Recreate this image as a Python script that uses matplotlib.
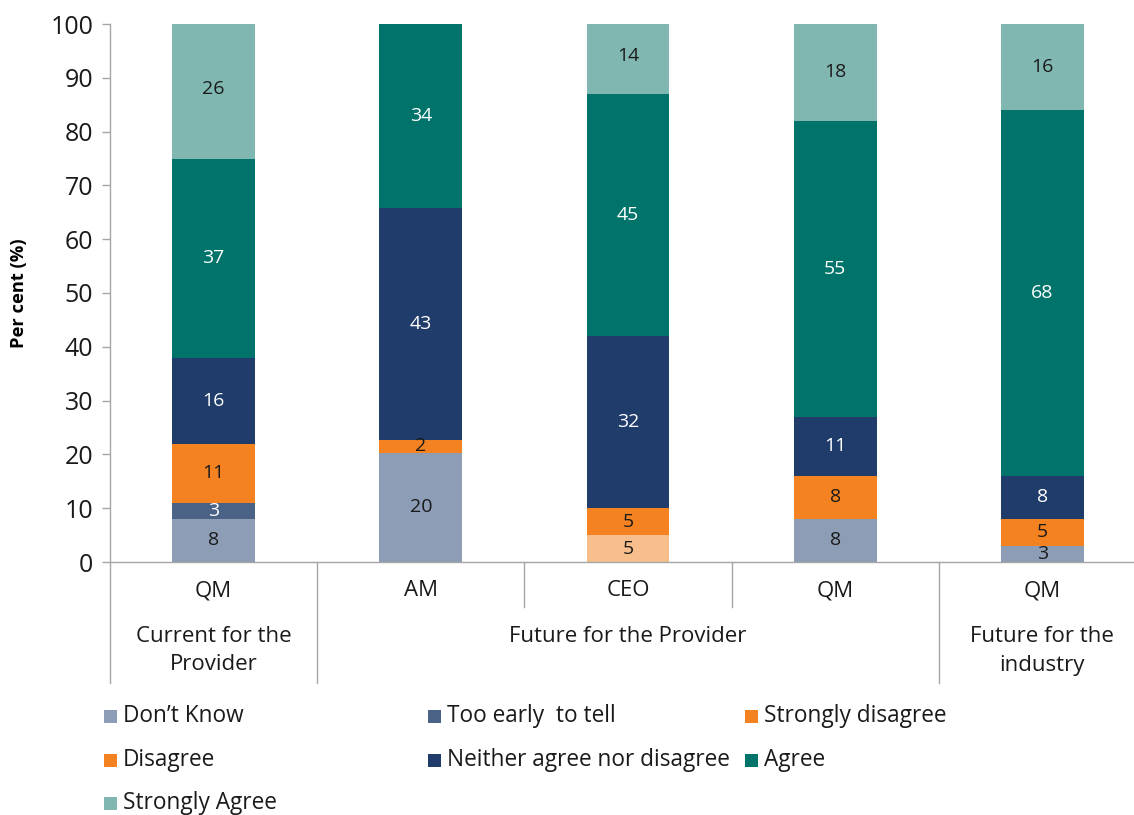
import matplotlib
matplotlib.use("Agg")
import matplotlib.pyplot as plt
from matplotlib.patches import Rectangle
from matplotlib.transforms import blended_transform_factory

plt.rcParams['font.family'] = ['Open Sans', 'DejaVu Sans']

# ---- data ----
bar_labels = ["QM", "AM", "CEO", "QM", "QM"]
group_labels = ["Current for the\nProvider", "Future for the Provider", "Future for the\nindustry"]
group_spans = [(0, 0), (1, 3), (4, 4)]

series_names = ["Don\u2019t Know", "Too early  to tell", "Strongly disagree", "Disagree",
                "Neither agree nor disagree", "Agree", "Strongly Agree"]
dont_know = [8, 20.3, 0, 8, 3]
too_early = [3, 0, 0, 0, 0]
strongly_disagree = [0, 0, 5, 0, 0]
disagree = [11, 2.4, 5, 8, 5]
neither = [16, 43.1, 32, 11, 8]
agree = [37, 34.2, 45, 55, 68]
strongly_agree = [26, 0, 14, 18, 16]
series_values = [dont_know, too_early, strongly_disagree, disagree, neither, agree, strongly_agree]

colors = ["#8C9DB5", "#4A6286", "#F58220", "#F58220", "#1F3C6A", "#00736A", "#80B8B1"]
point_override = {(2, 2): "#F8BE8C"}  # CEO strongly disagree shown lighter
text_colors = ["#1A1A1A", "white", "#1A1A1A", "#1A1A1A", "white", "white", "#1A1A1A"]

# ---- figure ----
W, H = 1134, 815
fig = plt.figure(figsize=(W / 100, H / 100), dpi=100)
ax = fig.add_axes([110 / W, (H - 562) / H, 1036 / W, 538 / H])

x = list(range(len(bar_labels)))
bottoms = [0.0] * len(x)
for si, (name, vals) in enumerate(zip(series_names, series_values)):
    cols = [point_override.get((si, i), colors[si]) for i in x]
    ax.bar(x, vals, width=0.4, bottom=bottoms, color=cols, edgecolor='none', zorder=2)
    for i, v in enumerate(vals):
        if v > 0:
            ax.text(i, bottoms[i] + v / 2, f"{v:.0f}", ha='center', va='center',
                    fontsize=14, color=text_colors[si], zorder=3)
    bottoms = [b + v for b, v in zip(bottoms, vals)]

ax.set_xlim(-0.5, len(x) - 0.5)
ax.set_ylim(0, 100)
ax.set_yticks(range(0, 101, 10))
ax.tick_params(axis='y', labelsize=18, colors='#A6A6A6', labelcolor='#1A1A1A',
               length=6, width=1, pad=6)
ax.set_xticks([])
for s in ['top', 'right']:
    ax.spines[s].set_visible(False)
for s in ['left', 'bottom']:
    ax.spines[s].set_color('#A6A6A6')
    ax.spines[s].set_linewidth(1)

ax.set_ylabel("Per cent (%)", fontsize=13.2, fontweight='bold')
ax.yaxis.set_label_coords(-82 / 1036, 0.5)

# category axis
tr = blended_transform_factory(ax.transData, ax.transAxes)
long_len = -121 / 538
short_len = -45 / 538
boundaries = [i - 0.5 for i in range(len(x) + 1)]
group_edges = set()
for a, b in group_spans:
    group_edges.add(a - 0.5)
    group_edges.add(b + 0.5)
for bnd in boundaries:
    y1 = long_len if bnd in group_edges else short_len
    ax.plot([bnd, bnd], [0, y1], transform=tr, color='#A6A6A6', lw=1, clip_on=False)

for i, lab in enumerate(bar_labels):
    ax.text(i, -29 / 538, lab, transform=tr, ha='center', va='center', fontsize=16, color='#1A1A1A')
for (a, b), lab in zip(group_spans, group_labels):
    for li, line in enumerate(lab.split("\n")):
        ax.text((a + b) / 2, -(75 + 28 * li) / 538, line, transform=tr, ha='center',
                va='center', fontsize=16, color='#1A1A1A')

# legend (manual, row-wise)
leg_cols = [104, 428, 745]
leg_rows = [716, 760, 803]
sq = 13
for k, name in enumerate(series_names):
    r, c = divmod(k, 3)
    cx, cy = leg_cols[c], leg_rows[r]
    fig.patches.append(Rectangle((cx / W, (H - cy - sq / 2) / H), sq / W, sq / H,
                                 transform=fig.transFigure, facecolor=colors[k],
                                 edgecolor='none'))
    fig.text((cx + sq + 6) / W, (H - cy) / H, name, ha='left', va='center',
             fontsize=16.3, color='#1A1A1A')

fig.savefig("out.png", dpi=100)
